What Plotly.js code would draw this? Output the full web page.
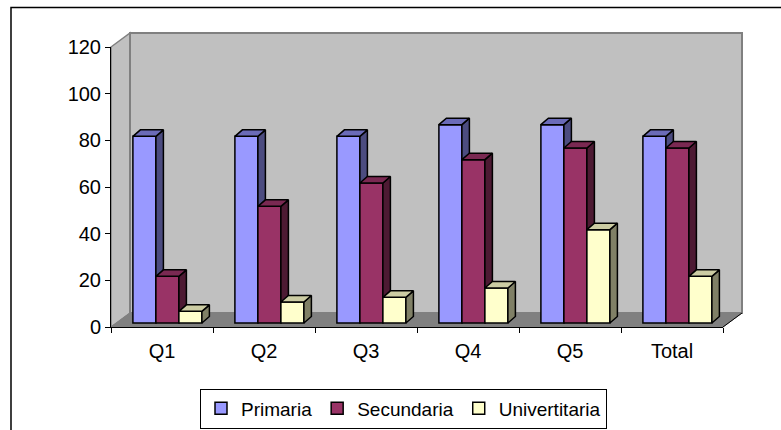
<!DOCTYPE html>
<html><head><meta charset="utf-8">
<script src="https://cdn.plot.ly/plotly-3.0.1.min.js"></script>
<style>html,body{margin:0;padding:0;background:#fff;overflow:hidden}</style>
</head><body><div id="chart" style="width:781px;height:430px"></div>
<script>
// ---- data ----
const categories = ['Q1', 'Q2', 'Q3', 'Q4', 'Q5', 'Total'];
const primaria = [80, 80, 80, 85, 85, 80];
const secundaria = [20, 50, 60, 70, 75, 75];
const univertitaria = [5, 9, 11, 15, 40, 20];
const seriesNames = ['Primaria', 'Secundaria', 'Univertitaria'];
const yTickVals = [0, 20, 40, 60, 80, 100, 120];

// ---- styling / geometry (pixels) ----
const W = 781, H = 430;
const M = {l: 111, r: 58, t: 47, b: 103, autoexpand: false};
const PW = W - M.l - M.r, PH = H - M.t - M.b;
const YMAX = 120;
const pxX = PW / categories.length;
const pxY = PH / YMAX;
const WALL = {dx: 19, dy: 14};
const PLANE = {dx: 5.4, dy: 4};
const DEPTH = {dx: 7.5, dy: 6.5};
const BAR_PX = 23;
const FONT = '"Liberation Sans", Arial, sans-serif';
const FS = 20;
const colors = [
  {front: '#9999FF', top: '#6B6BB8', side: '#4C4C80'},
  {front: '#993366', top: '#7A2952', side: '#4D1A33'},
  {front: '#FFFFCC', top: '#CCCCA3', side: '#808066'}
];

const BARW = BAR_PX / pxX;
const shiftX = PLANE.dx / pxX, baseY = PLANE.dy / pxY;
const ddx = DEPTH.dx / pxX, ddy = DEPTH.dy / pxY;
const allSeries = [primaria, secundaria, univertitaria];

const traces = [];
allSeries.forEach((vals, k) => {
  const yax = k === 0 ? 'y' : 'y' + (k + 1);
  const xs = categories.map((c, i) => i + shiftX + (k - 1) * BARW);
  traces.push({
    type: 'bar', name: seriesNames[k], x: xs, y: vals, base: baseY, width: BARW,
    yaxis: yax, cliponaxis: false, textposition: 'none',
    marker: {color: colors[k].front, line: {color: '#000', width: 1.5}},
    customdata: categories, hovertemplate: '%{customdata}: %{y}<extra>' + seriesNames[k] + '</extra>'
  });
  const sx = [], sy = [], tx = [], ty = [];
  xs.forEach((x, i) => {
    const xl = x - BARW / 2, xr = x + BARW / 2, b = baseY, t = baseY + vals[i];
    sx.push(xr, xr, xr + ddx, xr + ddx, xr, null);
    sy.push(b, t, t + ddy, b + ddy, b, null);
    tx.push(xl, xl + ddx, xr + ddx, xr, xl, null);
    ty.push(t, t + ddy, t + ddy, t, t, null);
  });
  traces.push({type: 'scatter', mode: 'lines', x: sx, y: sy, yaxis: yax, fill: 'toself',
    fillcolor: colors[k].side, line: {color: '#000', width: 1.5}, showlegend: false,
    hoverinfo: 'skip', cliponaxis: false});
  traces.push({type: 'scatter', mode: 'lines', x: tx, y: ty, yaxis: yax, fill: 'toself',
    fillcolor: colors[k].top, line: {color: '#000', width: 1.5}, showlegend: false,
    hoverinfo: 'skip', cliponaxis: false});
});

// pixel -> paper helpers
const PXx = px => (px - M.l) / PW;
const PXy = py => (H - M.b - py) / PH;
const pt = (px, py) => PXx(px).toFixed(5) + ',' + PXy(py).toFixed(5);
const x0 = M.l, x1 = W - M.r, yTop = M.t, yBot = H - M.b;

const shapes = [
  // side wall
  {type: 'path', xref: 'paper', yref: 'paper', layer: 'below',
   path: 'M' + pt(x0, yTop) + 'L' + pt(x0 + WALL.dx, yTop - WALL.dy) + 'L' + pt(x0 + WALL.dx, yBot - WALL.dy) + 'L' + pt(x0, yBot) + 'Z',
   fillcolor: '#C0C0C0', line: {color: '#808080', width: 1.5}},
  // back wall
  {type: 'rect', xref: 'paper', yref: 'paper', layer: 'below',
   x0: PXx(x0 + WALL.dx), x1: PXx(x1 + WALL.dx), y0: PXy(yBot - WALL.dy), y1: PXy(yTop - WALL.dy),
   fillcolor: '#C0C0C0', line: {color: '#808080', width: 2}},
  // floor
  {type: 'path', xref: 'paper', yref: 'paper', layer: 'below',
   path: 'M' + pt(x0, yBot) + 'L' + pt(x0 + WALL.dx, yBot - WALL.dy) + 'L' + pt(x1 + WALL.dx, yBot - WALL.dy) + 'L' + pt(x1, yBot) + 'Z',
   fillcolor: '#808080', line: {color: '#808080', width: 1}},
  // floor right edge
  {type: 'line', xref: 'paper', yref: 'paper', layer: 'below',
   x0: PXx(x1), y0: PXy(yBot), x1: PXx(x1 + WALL.dx), y1: PXy(yBot - WALL.dy),
   line: {color: '#000', width: 1}},
  // chart area border
  {type: 'path', xref: 'paper', yref: 'paper', layer: 'below',
   path: 'M' + pt(11, 440) + 'L' + pt(11, 7.5) + 'L' + pt(790, 7.5),
   fillcolor: 'rgba(0,0,0,0)', line: {color: '#000', width: 1.5}}
];

const hidY = {overlaying: 'y', range: [0, YMAX], visible: false, fixedrange: true};
const layout = {
  width: W, height: H,
  margin: M,
  paper_bgcolor: '#fff', plot_bgcolor: 'rgba(0,0,0,0)',
  font: {family: FONT, size: FS, color: '#000'},
  barmode: 'overlay',
  showlegend: true,
  xaxis: {
    range: [-0.5, categories.length - 0.5], fixedrange: true,
    tickmode: 'array', tickvals: categories.map((c, i) => i), ticktext: categories,
    ticks: '', showgrid: false, zeroline: false,
    showline: true, linecolor: '#000', linewidth: 1,
    ticklabelstandoff: 6,
    minor: {tickmode: 'array', tickvals: categories.concat(['']).map((c, i) => i - 0.5),
            ticks: 'outside', ticklen: 5, tickcolor: '#000', tickwidth: 1, showgrid: false},
    tickfont: {family: FONT, size: FS}
  },
  yaxis: {
    range: [0, YMAX], fixedrange: true, tickmode: 'array', tickvals: yTickVals,
    ticks: 'outside', ticklen: 5, tickcolor: '#000', showgrid: false, zeroline: false,
    showline: true, linecolor: '#000', linewidth: 1,
    tickfont: {family: FONT, size: FS}
  },
  yaxis2: hidY, yaxis3: Object.assign({}, hidY),
  legend: {
    orientation: 'h', x: PXx(403.5), xanchor: 'center', y: PXy(408.5), yanchor: 'middle',
    bordercolor: '#000', borderwidth: 1, bgcolor: '#fff',
    font: {family: FONT, size: 19}, traceorder: 'normal', itemwidth: 30
  },
  shapes: shapes
};

Plotly.newPlot('chart', traces, layout, {displayModeBar: false, staticPlot: true});
</script>
</body></html>
